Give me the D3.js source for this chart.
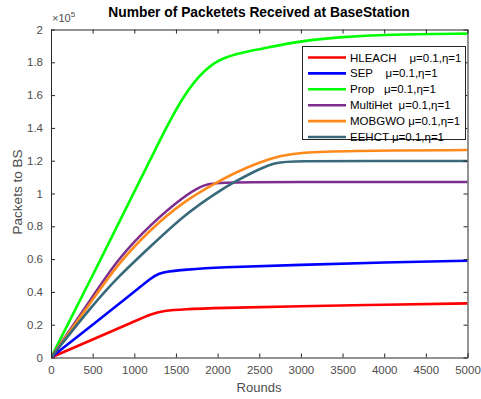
<!DOCTYPE html>
<html>
<head>
<meta charset="utf-8">
<script src="https://cdn.jsdelivr.net/npm/d3@7"></script>
<style>
  body { margin: 0; background: #fff; }
  text { font-family: "Liberation Sans", Arial, sans-serif; }
</style>
</head>
<body>
<div id="container"></div>
<script>
// values in units of 1e5 packets
const hleach = [[0,0],[500,0.11],[1000,0.22],[1200,0.265],[1350,0.285],[1600,0.295],[2000,0.302],[3000,0.313],[4000,0.322],[5000,0.33]];
const sep = [[0,0],[500,0.2],[1000,0.4],[1200,0.485],[1300,0.513],[1400,0.525],[1600,0.535],[2000,0.55],[3000,0.565],[4000,0.58],[5000,0.59]];
const prop = [[0,0],[500,0.5],[1000,1.01],[1300,1.32],[1600,1.61],[1850,1.76],[2050,1.825],[2300,1.86],[2600,1.89],[3000,1.93],[3500,1.955],[4000,1.97],[5000,1.975]];
const multihet = [[0,0],[500,0.37],[800,0.6],[1200,0.815],[1600,0.985],[1800,1.045],[1950,1.07],[3000,1.07],[4000,1.07],[5000,1.07]];
const mobgwo = [[0,0],[500,0.35],[800,0.57],[1200,0.785],[1600,0.955],[2000,1.07],[2200,1.125],[2500,1.19],[2750,1.23],[3000,1.25],[3500,1.26],[5000,1.265]];
const eehct = [[0,0],[500,0.32],[800,0.49],[1200,0.68],[1600,0.87],[2000,1.01],[2200,1.07],[2500,1.15],[2700,1.19],[2900,1.198],[4000,1.198],[5000,1.198]];

const names = ['HLEACH    μ=0.1,η=1', 'SEP    μ=0.1,η=1', 'Prop   μ=0.1,η=1', 'MultiHet  μ=0.1,η=1', 'MOBGWO μ=0.1,η=1', 'EEHCT μ=0.1,η=1'];
const colors = ['#ff0000', '#0000ff', '#00ff00', '#7e2f8e', '#ff8a1c', '#386a7c'];
const seriesList = [hleach, sep, prop, multihet, mobgwo, eehct];

const xTicks = d3.range(0, 5001, 500);
const yTicks = [0, 0.2, 0.4, 0.6, 0.8, 1, 1.2, 1.4, 1.6, 1.8, 2];

const w = 481, h = 399;
const mLeft = 51, mRight = 467.5, mTop = 29.5, mBottom = 357.5;

const svg = d3.select('#container').append('svg')
  .attr('width', w).attr('height', h);

const xScale = d3.scaleLinear().domain([0, 5000]).range([mLeft, mRight]);
const yScale = d3.scaleLinear().domain([0, 2]).range([mBottom, mTop]);

svg.append('clipPath').attr('id', 'clip')
  .append('rect').attr('x', mLeft).attr('y', mTop).attr('width', mRight - mLeft).attr('height', mBottom - mTop);

const line = d3.line()
  .x(d => xScale(d[0]))
  .y(d => yScale(d[1]))
  .curve(d3.curveBasis);

const plot = svg.append('g').attr('clip-path', 'url(#clip)');
seriesList.forEach((s, i) => {
  plot.append('path')
    .datum(s)
    .attr('fill', 'none')
    .attr('stroke', colors[i])
    .attr('stroke-width', 2.6)
    .attr('d', line);
});

// axes (box with inward ticks on every side)
const fmtY = d => String(+d.toFixed(1));
const xAxis = d3.axisBottom(xScale).tickValues(xTicks).tickSizeInner(-4).tickSizeOuter(0).tickPadding(8).tickFormat(d3.format('d'));
const yAxis = d3.axisLeft(yScale).tickValues(yTicks).tickSizeInner(-4).tickSizeOuter(0).tickPadding(8).tickFormat(fmtY);
const xTop = d3.axisTop(xScale).tickValues(xTicks).tickSizeInner(-4).tickSizeOuter(0).tickFormat('');
const yRight = d3.axisRight(yScale).tickValues(yTicks).tickSizeInner(-4).tickSizeOuter(0).tickFormat('');

[
  [xAxis, `translate(0,${mBottom})`],
  [yAxis, `translate(${mLeft},0)`],
  [xTop, `translate(0,${mTop})`],
  [yRight, `translate(${mRight},0)`]
].forEach(([ax, tr]) => {
  const g = svg.append('g').attr('transform', tr).call(ax);
  g.select('.domain').attr('stroke', '#262626');
  g.selectAll('.tick line').attr('stroke', '#262626');
  g.selectAll('.tick text').attr('fill', '#4d4d4d').style('font-size', '11.5px')
    .style('font-family', '"Liberation Sans", Arial, sans-serif');
});

// exponent label
const ex = svg.append('text').attr('x', 52).attr('y', 22).attr('fill', '#4d4d4d').style('font-size', '11px');
ex.append('tspan').text('×10');
ex.append('tspan').attr('dy', -5).style('font-size', '8px').text('5');

svg.append('text')
  .attr('x', 259).attr('y', 17)
  .attr('text-anchor', 'middle')
  .style('font-size', '13.8px').style('font-weight', 'bold')
  .attr('fill', '#000')
  .text('Number of Packetets Received at BaseStation');

svg.append('text')
  .attr('x', 259).attr('y', 392)
  .attr('text-anchor', 'middle')
  .style('font-size', '13px').attr('fill', '#4d4d4d')
  .text('Rounds');

svg.append('text')
  .attr('transform', 'translate(22,192) rotate(-90)')
  .attr('text-anchor', 'middle')
  .style('font-size', '13.5px').attr('fill', '#4d4d4d')
  .text('Packets to BS');

// legend
const legend = svg.append('g');
legend.append('rect')
  .attr('x', 302.5).attr('y', 46.5).attr('width', 163).attr('height', 93)
  .attr('fill', '#fff').attr('stroke', '#262626').attr('stroke-width', 1);

names.forEach((n, i) => {
  const y = 57.5 + i * 15.9;
  legend.append('line')
    .attr('x1', 308).attr('x2', 346).attr('y1', y).attr('y2', y)
    .attr('stroke', colors[i]).attr('stroke-width', 2.6);
  legend.append('text')
    .attr('x', 350).attr('y', y + 4)
    .attr('xml:space', 'preserve')
    .style('white-space', 'pre')
    .style('font-size', '11.5px').attr('fill', '#000')
    .text(n);
});
</script>
</body>
</html>
